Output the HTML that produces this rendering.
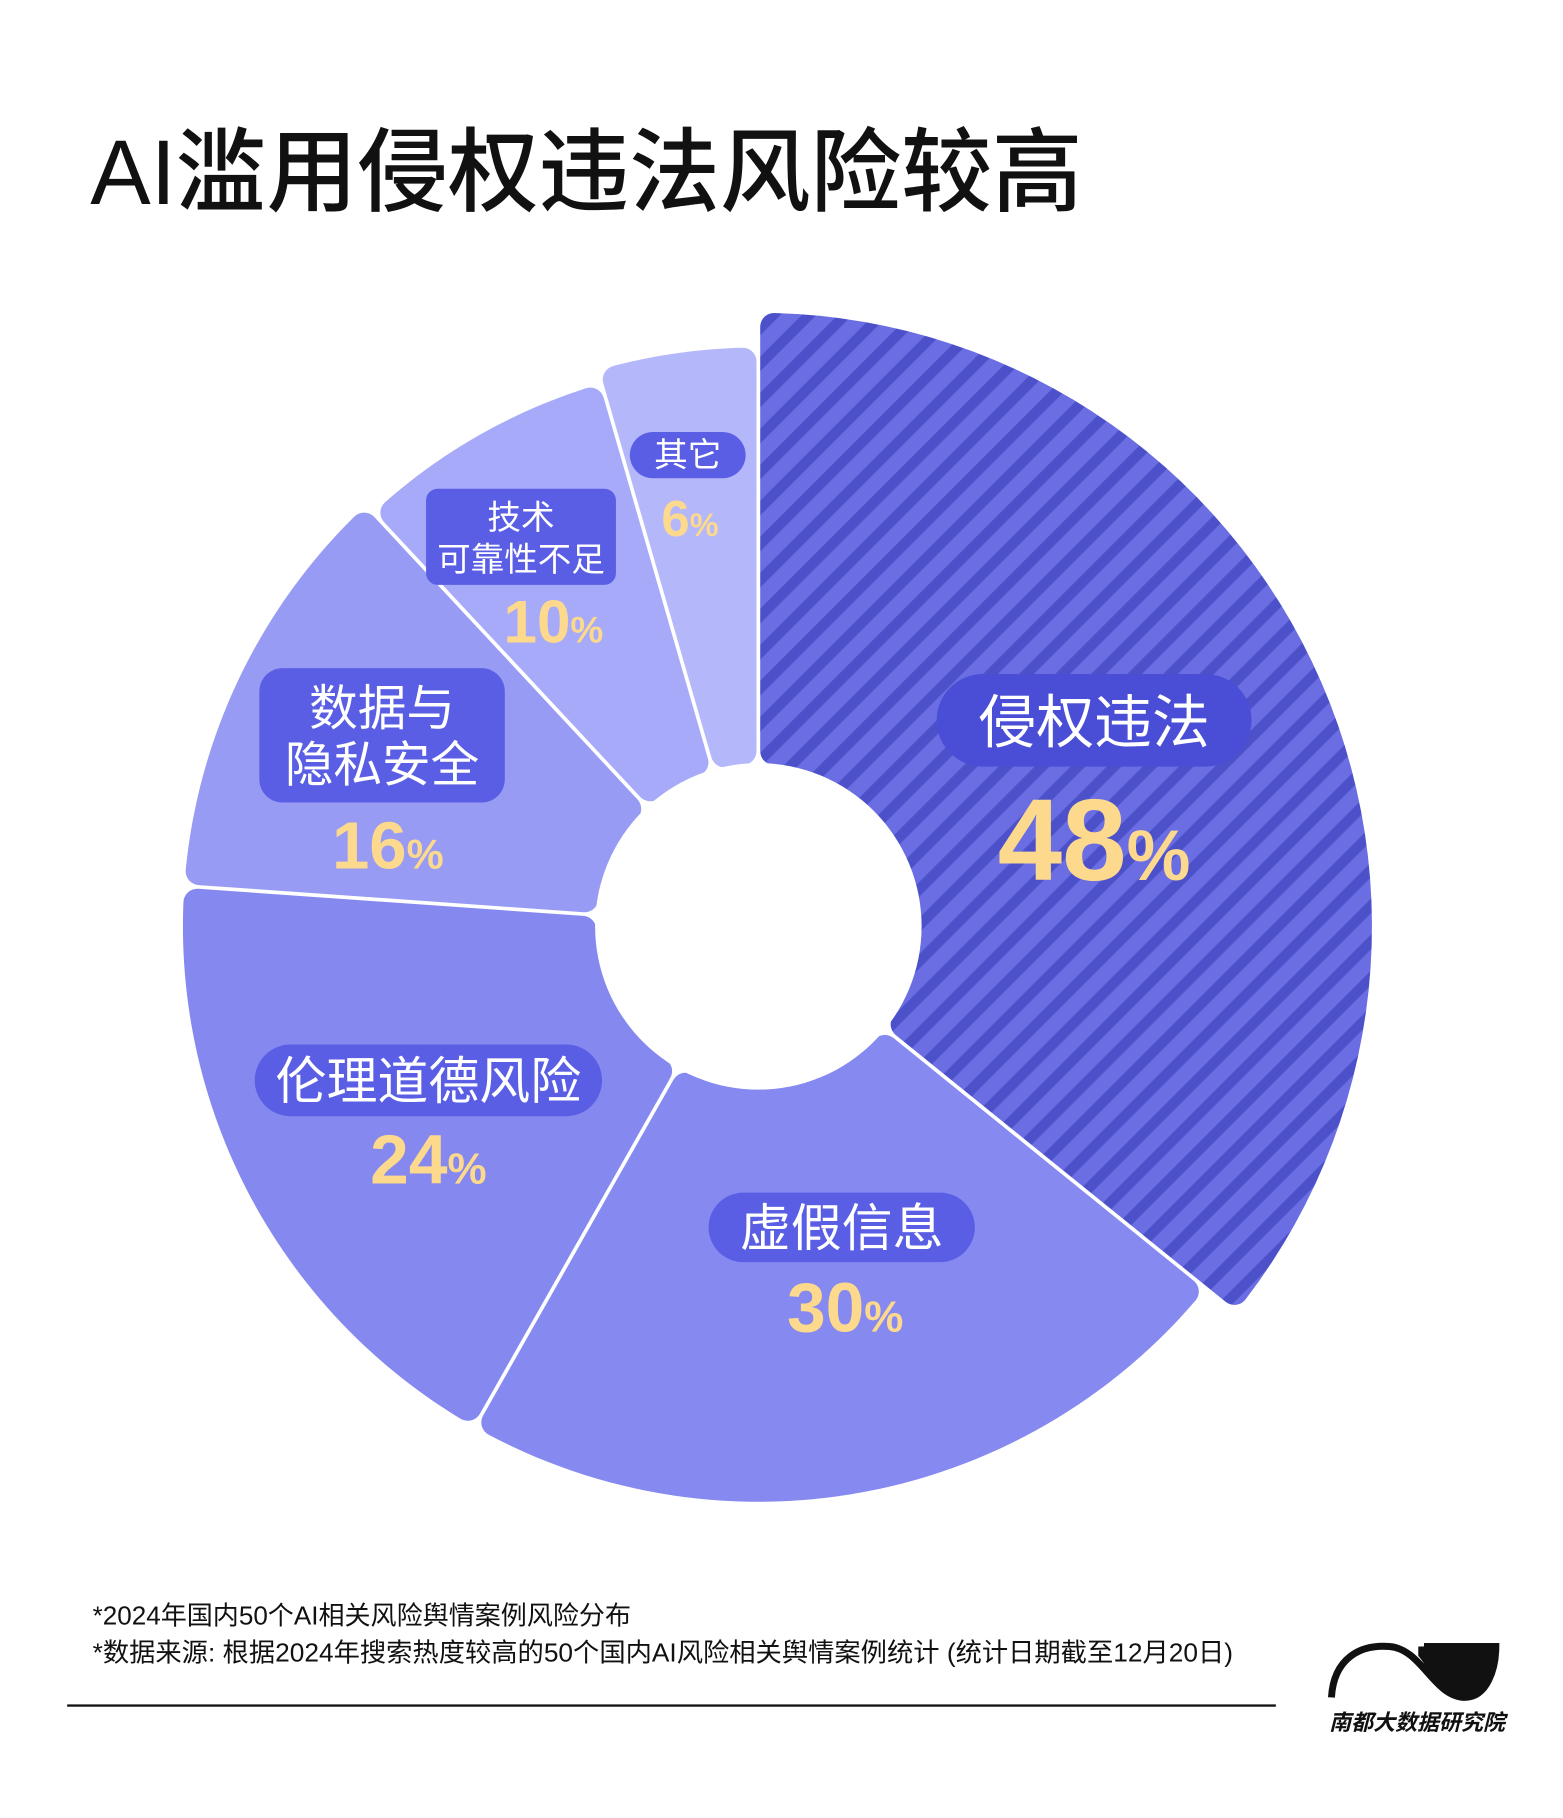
<!DOCTYPE html>
<html><head><meta charset="utf-8"><style>
html,body{margin:0;padding:0;background:#fff}
svg{display:block}
text{font-family:"Liberation Sans","Noto Sans CJK SC",sans-serif}
</style></head><body>
<svg width="1563" height="1818" viewBox="0 0 1350 1570" xmlns="http://www.w3.org/2000/svg">
<defs>
<pattern id="st" width="22" height="22" patternUnits="userSpaceOnUse" patternTransform="rotate(45)">
<rect width="22" height="22" fill="#6a6ee2"/>
<rect width="9" height="22" fill="#4d51c9"/>
</pattern>
</defs>
<rect width="1350" height="1570" fill="#fff"/>
<text x="78" y="176" font-size="79" font-weight="500" fill="#111" textLength="857" lengthAdjust="spacingAndGlyphs">AI滥用侵权违法风险较高</text>
<g id="pie"></g>
<circle cx="655" cy="800" r="141" fill="#fff"/>
<!-- labels -->
<rect x="809" y="582" width="272" height="80" rx="40" fill="#4a4ed6"/>
<text x="945" y="641" font-size="50" fill="#fff" text-anchor="middle">侵权违法</text>
<text x="945" y="760" font-size="100" font-weight="bold" fill="#fcd98d" text-anchor="middle">48<tspan font-size="62">%</tspan></text>

<rect x="612" y="1030" width="230" height="60" rx="30" fill="#5a5ee4"/>
<text x="727" y="1076" font-size="44" fill="#fff" text-anchor="middle">虚假信息</text>
<text x="730" y="1150" font-size="60" font-weight="bold" fill="#fcd98d" text-anchor="middle">30<tspan font-size="38">%</tspan></text>

<rect x="220" y="902" width="300" height="62" rx="31" fill="#5a5ee4"/>
<text x="370" y="949" font-size="44" fill="#fff" text-anchor="middle">伦理道德风险</text>
<text x="370" y="1022" font-size="60" font-weight="bold" fill="#fcd98d" text-anchor="middle">24<tspan font-size="38">%</tspan></text>

<rect x="224" y="577" width="212" height="116" rx="20" fill="#5a5ee4"/>
<text x="330" y="626" font-size="42" fill="#fff" text-anchor="middle">数据与</text>
<text x="330" y="675" font-size="42" fill="#fff" text-anchor="middle">隐私安全</text>
<text x="335" y="750" font-size="58" font-weight="bold" fill="#fcd98d" text-anchor="middle">16<tspan font-size="36">%</tspan></text>

<rect x="368" y="422" width="164" height="83" rx="10" fill="#5a5ee4"/>
<text x="450" y="457" font-size="29" fill="#fff" text-anchor="middle">技术</text>
<text x="450" y="493" font-size="29" fill="#fff" text-anchor="middle">可靠性不足</text>
<text x="478" y="555" font-size="52" font-weight="bold" fill="#fcd98d" text-anchor="middle">10<tspan font-size="32">%</tspan></text>

<rect x="544" y="373" width="100" height="40" rx="20" fill="#5a5ee4"/>
<text x="594" y="403" font-size="29" fill="#fff" text-anchor="middle">其它</text>
<text x="596" y="463" font-size="44" font-weight="bold" fill="#fcd98d" text-anchor="middle">6<tspan font-size="28">%</tspan></text>

<text x="80" y="1403" font-size="22.5" fill="#111">*2024年国内50个AI相关风险舆情案例风险分布</text>
<text x="80" y="1435" font-size="22.5" fill="#111" textLength="985" lengthAdjust="spacingAndGlyphs">*数据来源: 根据2024年搜索热度较高的50个国内AI风险相关舆情案例统计 (统计日期截至12月20日)</text>
<rect x="58" y="1472" width="1044" height="2" fill="#111"/>
<path d="M1150 1466 C1152 1432 1175 1420 1200 1422 C1228 1424 1238 1465 1265 1466 C1285 1466 1292 1440 1292 1422 L1230 1422 C1250 1424 1262 1436 1272 1436 C1262 1450 1250 1446 1240 1436" fill="none" stroke="#111" stroke-width="6"/>
<path d="M1225 1422 L1292 1422 C1292 1445 1282 1466 1262 1466 C1245 1466 1238 1446 1225 1430 Z" fill="#111"/>
<text x="1148" y="1494" font-size="19" font-weight="bold" font-style="italic" fill="#111">南都大数据研究院</text>
</svg>
<script>
(function(){
var cx=655,cy=800,ri=140,d=12,gap=1.6;
var data=[[48,530,'url(#st)'],[30,497,'#8589f0'],[24,497,'#8588ef'],[16,497,'#979bf3'],[10,488,'#a6aaf8'],[6,500,'#b4b7fa']];
var tot=134,a=0,g=document.getElementById('pie'),s='';
function p(r,ang){var t=ang*Math.PI/180;return (cx+r*Math.sin(t)).toFixed(2)+','+(cy-r*Math.cos(t)).toFixed(2);}
function da(r){return Math.asin((d+gap)/r)*180/Math.PI;}
data.forEach(function(x){
 var a2=a+x[0]/tot*360;var R=x[1]-d,r=ri+d;
 var pts=[],n=60,i;
 var oa1=a+da(R),oa2=a2-da(R),ia1=a+da(r),ia2=a2-da(r);
 for(i=0;i<=n;i++)pts.push(p(R,oa1+(oa2-oa1)*i/n));
 for(i=n;i>=0;i--)pts.push(p(r,ia1+(ia2-ia1)*i/n));
 s+='<path d="M'+pts.join(' L')+' Z" fill="'+x[2]+'" stroke="'+x[2]+'" stroke-width="'+(2*d)+'" stroke-linejoin="round"/>';
 a=a2;});
g.innerHTML=s;
})();
</script>
</body></html>
